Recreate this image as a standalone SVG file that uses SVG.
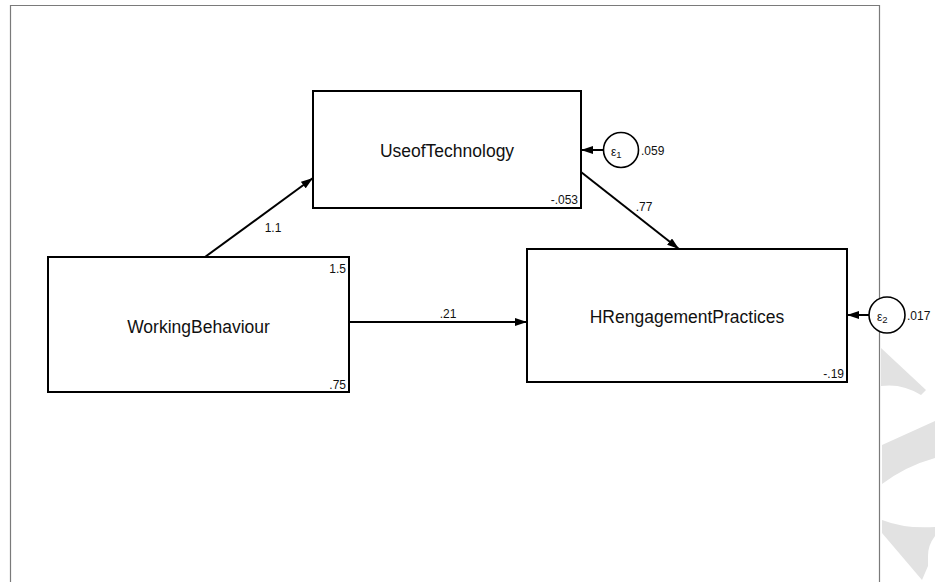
<svg xmlns="http://www.w3.org/2000/svg" width="935" height="582" viewBox="0 0 935 582">
<style>
  .box { fill: #ffffff; stroke: #000000; stroke-width: 2; }
  .lbl { font-family: "Liberation Sans", Arial, sans-serif; font-size: 17.5px; fill: #111111; text-anchor: middle; }
  .num { font-family: "Liberation Sans", Arial, sans-serif; font-size: 12px; fill: #111111; }
  .end { text-anchor: end; }
  .mid { text-anchor: middle; }
  .edge { stroke: #000000; stroke-width: 2; fill: none; marker-end: url(#ah); }
  .err { fill: #ffffff; stroke: #000000; stroke-width: 1.6; }
  .wm { fill: #e2e2e2; }
  .frame { stroke: #7a7a7a; stroke-width: 1.2; fill: none; }
</style>
<defs>
  <marker id="ah" viewBox="0 0 12 8" refX="12" refY="4" markerWidth="12" markerHeight="8" markerUnits="userSpaceOnUse" orient="auto">
    <path d="M0,0 L12,4 L0,8 Z" fill="#000000"/>
  </marker>
</defs>
<rect x="0" y="0" width="935" height="582" fill="#ffffff"/>
<g id="watermark">
  <path class="wm" d="M881,348 L926,390 L921,395 Q902,383 881,386 Z"/>
  <path class="wm" d="M882,445 L935,421 L935,458 Q906,466 882,484 Z"/>
  <path class="wm" d="M882,520 Q905,529 935,527 L935,536 Q928,545 928,556 L928,566 L922,580 L882,533 Z"/>
</g>
<g id="frame">
  <path class="frame" d="M10.5,582 L10.5,5.5 L879.5,5.5 L879.5,582"/>
</g>
<g id="connectors">
  <line class="edge" x1="205" y1="257" x2="313" y2="178"/>
  <line class="edge" x1="581" y1="172" x2="679" y2="249"/>
  <line class="edge" x1="349" y1="322" x2="527" y2="322"/>
  <line class="edge" x1="603" y1="150" x2="581" y2="150"/>
  <line class="edge" x1="869" y1="315" x2="847" y2="315"/>
  <text class="num mid" x="273" y="232">1.1</text>
  <text class="num mid" x="644" y="211">.77</text>
  <text class="num mid" x="448" y="318">.21</text>
</g>
<g id="UseofTechnology">
  <rect class="box" x="313" y="91" width="268" height="117"/>
  <text class="lbl" x="447" y="157">UseofTechnology</text>
  <text class="num end" x="578" y="204">-.053</text>
</g>
<g id="WorkingBehaviour">
  <rect class="box" x="48" y="257" width="301" height="135"/>
  <text class="lbl" x="198.5" y="333">WorkingBehaviour</text>
  <text class="num end" x="346" y="273">1.5</text>
  <text class="num end" x="346" y="389">.75</text>
</g>
<g id="HRengagementPractices">
  <rect class="box" x="527" y="249" width="320" height="133"/>
  <text class="lbl" x="687" y="323">HRengagementPractices</text>
  <text class="num end" x="844" y="378">-.19</text>
</g>
<g id="e1">
  <circle class="err" cx="621" cy="150" r="17.5"/>
  <text class="num" x="611" y="155.5" font-size="16.5">ε<tspan font-size="9.5" dy="2">1</tspan></text>
  <text class="num" x="641" y="155">.059</text>
</g>
<g id="e2">
  <circle class="err" cx="887" cy="315" r="18"/>
  <text class="num" x="877" y="320.5" font-size="16.5">ε<tspan font-size="9.5" dy="2">2</tspan></text>
  <text class="num" x="907" y="320">.017</text>
</g>
</svg>
